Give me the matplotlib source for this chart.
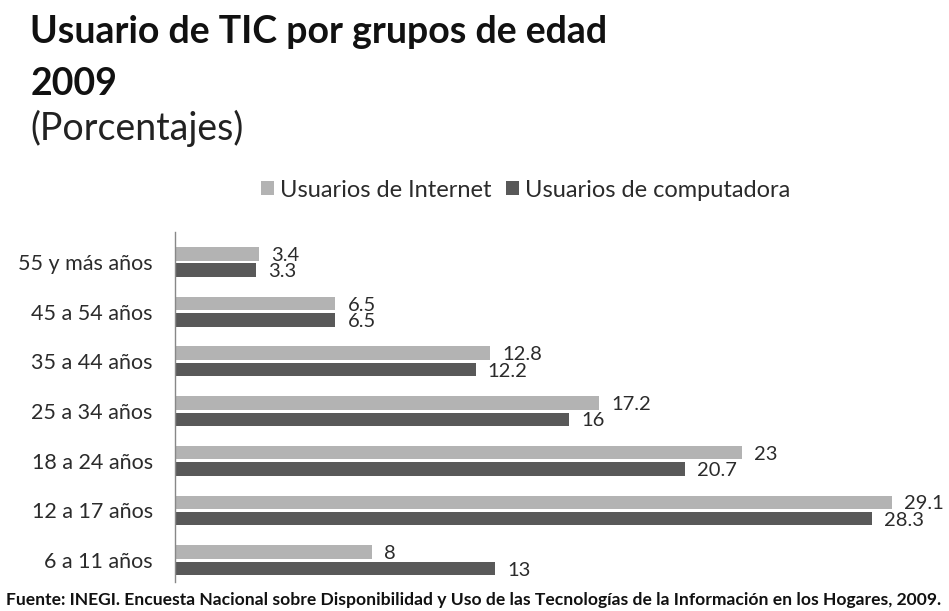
import numpy as np
import matplotlib.pyplot as plt

plt.rcParams['font.family'] = ['Lato', 'DejaVu Sans']

grupos = ['6 a 11 años', '12 a 17 años', '18 a 24 años', '25 a 34 años',
          '35 a 44 años', '45 a 54 años', '55 y más años']
internet = [8, 29.1, 23, 17.2, 12.8, 6.5, 3.4]
computadora = [13, 28.3, 20.7, 16, 12.2, 6.5, 3.3]
etiquetas_int = ['8', '29.1', '23', '17.2', '12.8', '6.5', '3.4']
etiquetas_comp = ['13', '28.3', '20.7', '16', '12.2', '6.5', '3.3']

c_int = '#b3b3b3'
c_comp = '#595959'
texto = '#2b2b2b'

fig = plt.figure(figsize=(9.49, 6.11), dpi=100)
ax = fig.add_axes([0.1844, 0.0475, 0.806, 0.5725])

y = np.arange(len(grupos))
h = 0.27
ax.barh(y + 0.165, internet, height=h, color=c_int, label='Usuarios de Internet')
ax.barh(y - 0.165, computadora, height=h, color=c_comp, label='Usuarios de computadora')

for i in range(len(grupos)):
    ax.text(internet[i] + 0.5, y[i] + 0.13, etiquetas_int[i], va='center', ha='left',
            fontsize=14.5, color=texto)
    ax.text(computadora[i] + 0.5, y[i] - 0.2, etiquetas_comp[i], va='center', ha='left',
            fontsize=14.5, color=texto)

ax.set_xlim(0, 31.05)
ax.set_ylim(-0.44, 6.6)
ax.set_yticks(y)
ax.set_yticklabels(grupos, fontsize=15.5, color=texto)
ax.tick_params(axis='y', length=0, pad=16)
ax.set_xticks([])
for s in ['top', 'right', 'bottom']:
    ax.spines[s].set_visible(False)
ax.spines['left'].set_color('#888888')
ax.spines['left'].set_linewidth(1)

leg = fig.legend(loc='center', bbox_to_anchor=(0.554, 0.689), ncol=2, frameon=False,
                 fontsize=17, handlelength=0.55, handleheight=0.55, handletextpad=0.25,
                 columnspacing=0.6, labelcolor=texto)

fig.text(0.032, 0.947, 'Usuario de TIC por grupos de edad', fontsize=27,
         fontweight='bold', color='#111111', va='center')
fig.text(0.032, 0.862, '2009', fontsize=27, fontweight='bold', color='#111111', va='center')
fig.text(0.032, 0.79, '(Porcentajes)', fontsize=27, color='#222222', va='center')

fig.text(0.006, 0.018, 'Fuente: INEGI. Encuesta Nacional sobre Disponibilidad y Uso de las '
         'Tecnologías de la Información en los Hogares, 2009.', fontsize=12.6,
         fontweight='bold', color='#111111', va='center')

fig.savefig('out.png', dpi=100, facecolor='white')
